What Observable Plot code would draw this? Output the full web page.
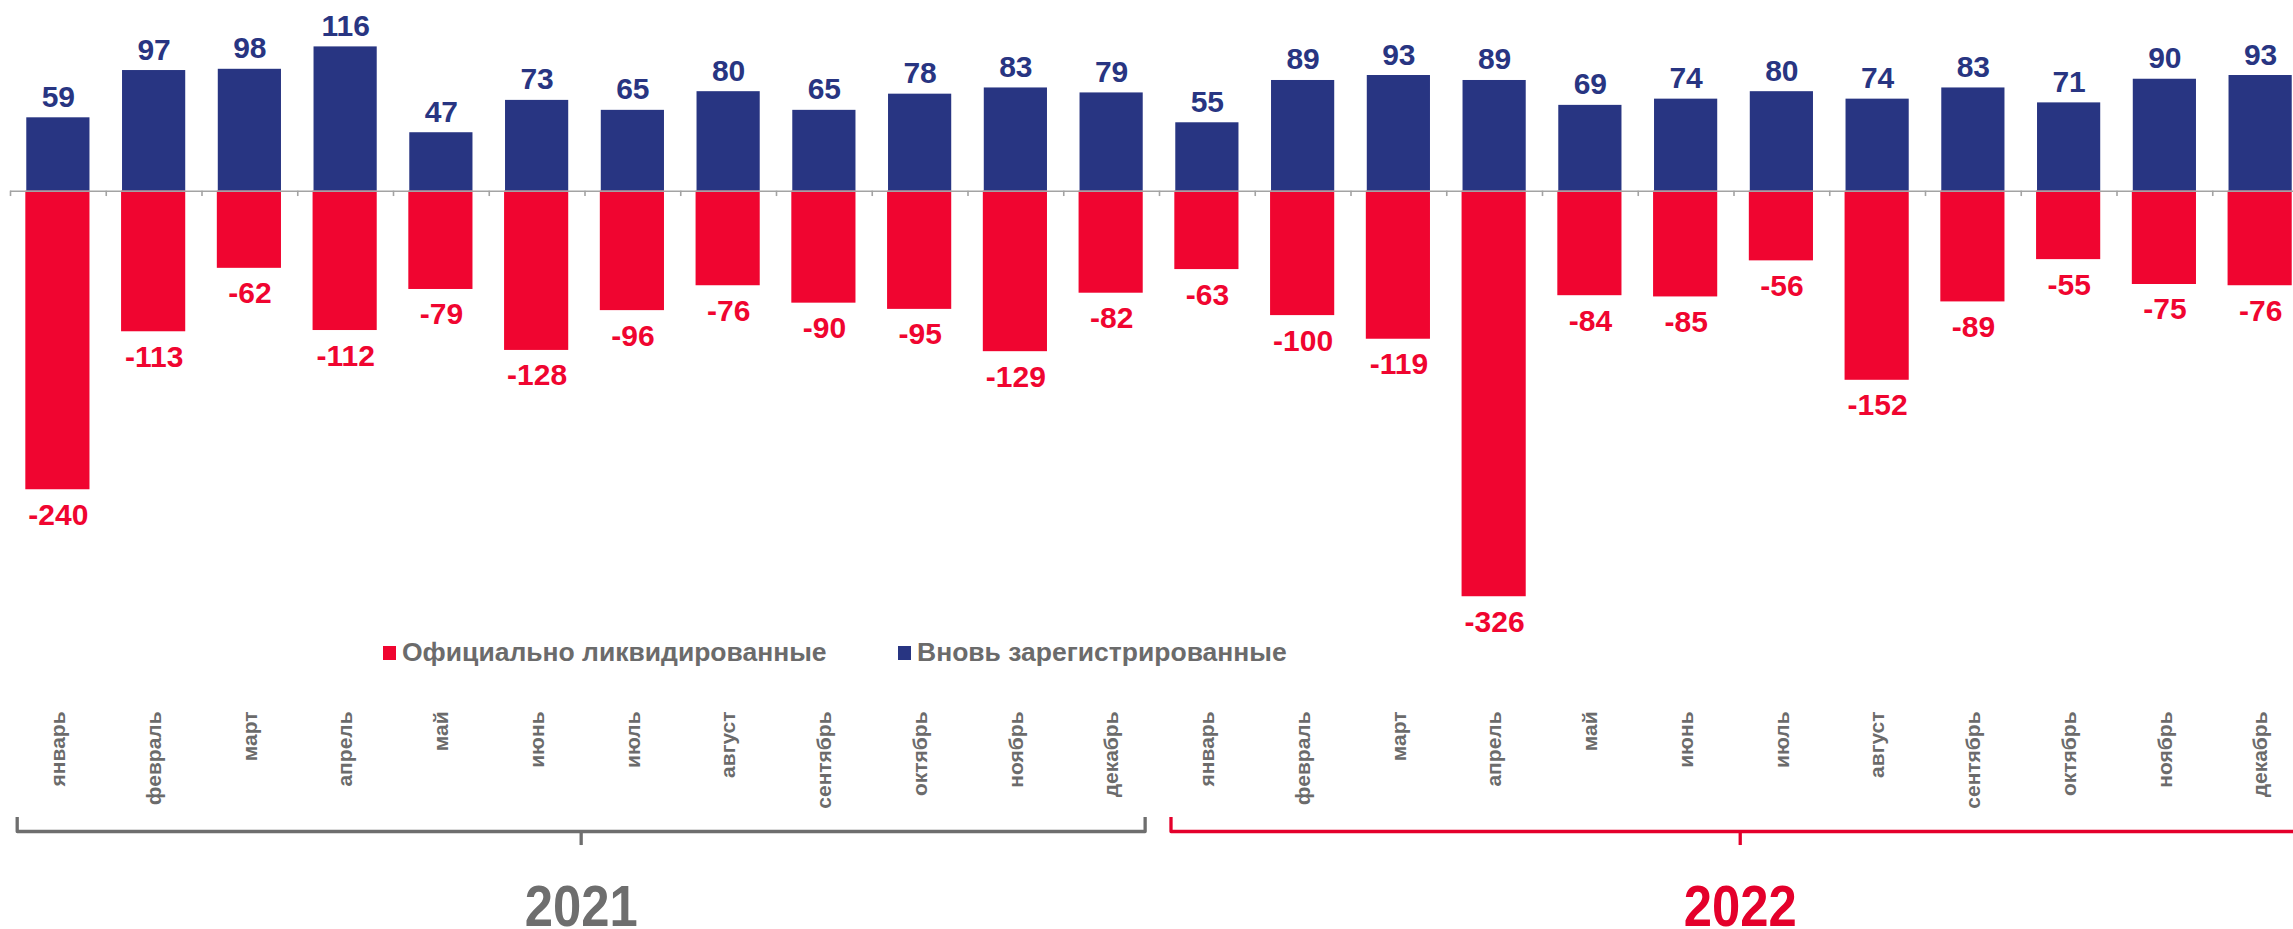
<!DOCTYPE html>
<html>
<head>
<meta charset="utf-8">
<script src="https://cdn.jsdelivr.net/npm/d3@7"></script>
<script src="https://cdn.jsdelivr.net/npm/@observablehq/plot@0.6"></script>
<style>
  html, body { margin: 0; padding: 0; background: #fff; overflow: hidden; }
  #wrap { position: relative; width: 2293px; height: 929px; }
  .leg { position: absolute; top: 637px; display: flex; align-items: center; font-family: "Liberation Sans", Arial, sans-serif; font-weight: bold; font-size: 26.5px; color: #6b6b6b; white-space: nowrap; }
  .leg .sw { width: 13px; height: 14px; margin-right: 6px; }
</style>
</head>
<body>
<div id="wrap"></div>
<script>
const years = ["2021", "2022"];
const monthNames = ["январь","февраль","март","апрель","май","июнь","июль","август","сентябрь","октябрь","ноябрь","декабрь"];
const registered = [59, 97, 98, 116, 47, 73, 65, 80, 65, 78, 83, 79,
                    55, 89, 93, 89, 69, 74, 80, 74, 83, 71, 90, 93];
const liquidated = [-240, -113, -62, -112, -79, -128, -96, -76, -90, -95, -129, -82,
                    -63, -100, -119, -326, -84, -85, -56, -152, -89, -55, -75, -76];
const legendLabels = ["Официально ликвидированные", "Вновь зарегистрированные"];

const BLUE = "#283582", RED = "#f00530", GRAY = "#6b6b6b";
const yearColors = ["#6e6e6e", "#e4002b"];

const rows = registered.map((v, i) => ({
  i, year: years[Math.floor(i / 12)], month: monthNames[i % 12],
  reg: v, liq: liquidated[i]
}));

// bracket under each year (in month-index units)
const bStart = k => 12 * k + 0.07 + 0.05 * k;
const bEnd = k => 12 * k + 11.85 + 0.16 * k;
const bracketPts = years.flatMap((yr, k) => [
  {year: yr, x: bStart(k), y: -503}, {year: yr, x: bStart(k), y: -514.7},
  {year: yr, x: bEnd(k), y: -514.7}, {year: yr, x: bEnd(k), y: -503}
]);
const bracketMid = years.map((yr, k) => ({year: yr, x: (bStart(k) + bEnd(k)) / 2}));

const font = "'Liberation Sans', Arial, sans-serif";

const chart = Plot.plot({
  width: 2293,
  height: 929,
  margin: 0,
  style: {background: "#fff", fontFamily: font},
  x: {type: "linear", domain: [0, 24], range: [10, 2308], axis: null},
  y: {type: "linear", domain: [-593.5, 153.3], range: [929, 0], axis: null},
  color: {type: "ordinal", domain: years, range: yearColors},
  marks: [
    Plot.rectY(rows, {x1: d => d.i + 0.17, x2: d => d.i + 0.83, y1: 0, y2: "reg", fill: BLUE}),
    Plot.rectY(rows, {x1: d => d.i + 0.16, x2: d => d.i + 0.83, y1: 0, y2: "liq", fill: RED}),
    Plot.ruleY([0], {x1: 0, x2: 24, stroke: "#a3a3a3", strokeWidth: 1.6}),
    Plot.ruleX(d3.range(25), {x: d => d, y1: 0, y2: -4.3, stroke: "#a3a3a3", strokeWidth: 1.6}),
    Plot.text(rows, {x: d => d.i + 0.5, y: "reg", text: d => String(d.reg), dy: -11, lineAnchor: "bottom",
      fill: BLUE, fontSize: 30, fontWeight: "bold"}),
    Plot.text(rows, {x: d => d.i + 0.5, y: "liq", text: d => String(d.liq), dy: 35, lineAnchor: "bottom",
      fill: RED, fontSize: 30, fontWeight: "bold"}),
    Plot.text(rows, {x: d => d.i + 0.5, y: -418.2, text: "month", rotate: -90, textAnchor: "end",
      fill: GRAY, fontSize: 21, fontWeight: "bold"}),
    Plot.line(bracketPts, {x: "x", y: "y", z: "year", stroke: "year", strokeWidth: 3.3, strokeLinejoin: "round", strokeLinecap: "butt"}),
    Plot.ruleX(bracketMid, {x: "x", y1: -514.7, y2: -526, stroke: "year", strokeWidth: 3.3}),
    Plot.text(years, {x: (d, k) => (bStart(k) + bEnd(k)) / 2, y: -590.5, text: d => d, fill: d => d, lineAnchor: "bottom",
      fontSize: 57, fontWeight: "bold", className: "yearlab"})
  ]
});

// condensed look for year labels
chart.querySelectorAll(".yearlab text").forEach(t => {
  t.setAttribute("textLength", "113");
  t.setAttribute("lengthAdjust", "spacingAndGlyphs");
});

const wrap = document.getElementById("wrap");
wrap.appendChild(chart);

const legLefts = [383, 898];
const legColors = [RED, BLUE];
legendLabels.forEach((lab, k) => {
  const d = document.createElement("div");
  d.className = "leg";
  d.style.left = legLefts[k] + "px";
  const sw = document.createElement("div");
  sw.className = "sw";
  sw.style.background = legColors[k];
  const t = document.createElement("span");
  t.textContent = lab;
  d.appendChild(sw); d.appendChild(t);
  wrap.appendChild(d);
});
</script>
</body>
</html>
